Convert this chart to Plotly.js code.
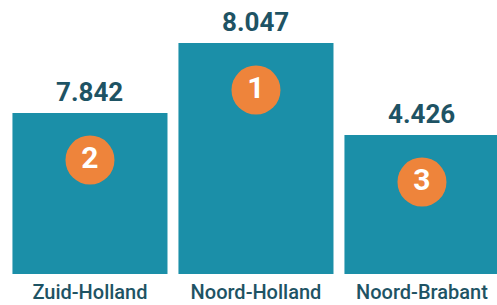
<!DOCTYPE html>
<html>
<head>
<meta charset="utf-8">
<script src="https://cdn.plot.ly/plotly-3.0.1.min.js"></script>
<style>html,body{margin:0;padding:0;background:#fff;}#chart{width:497px;height:305px;}</style>
</head>
<body>
<div id="chart"></div>
<script>
// Data
const provinces = ['Zuid-Holland', 'Noord-Holland', 'Noord-Brabant'];
const values = [7842, 8047, 4426];
const ranks = [2, 1, 3];
// podium block heights (visual units, not proportional to values)
const podiumHeights = [161, 231, 139];

function fmtNL(v) {
  return String(v).replace(/\B(?=(\d{3})+(?!\d))/g, '.');
}

const barColor = '#1b8fa8';
const orange = '#ee843b';
const darkTeal = '#1e5364';

const bars = {
  type: 'bar',
  x: provinces,
  y: podiumHeights,
  marker: { color: barColor },
  hoverinfo: 'skip'
};

const badges = {
  type: 'scatter',
  mode: 'markers+text',
  x: provinces,
  y: podiumHeights.map(h => h - 47),
  text: ranks.map(String),
  textposition: 'middle center',
  textfont: { family: 'Roboto', size: 30, color: '#ffffff', weight: 700 },
  marker: { size: 49, color: orange, line: { width: 0 } },
  hoverinfo: 'skip',
  cliponaxis: false
};

const annotations = provinces.map((p, i) => ({
  x: p,
  y: podiumHeights[i],
  xref: 'x',
  yref: 'y',
  text: fmtNL(values[i]),
  showarrow: false,
  yanchor: 'middle',
  yshift: 21,
  font: { family: 'Roboto', size: 26, color: darkTeal, weight: 700 }
}));

const layout = {
  width: 497,
  height: 305,
  margin: { l: 0, r: 0, t: 0, b: 31, pad: 0 },
  paper_bgcolor: '#ffffff',
  plot_bgcolor: '#ffffff',
  showlegend: false,
  bargap: 0.066,
  xaxis: {
    type: 'category',
    range: [-0.542, 2.452],
    showgrid: false,
    zeroline: false,
    showline: false,
    ticks: '',
    tickfont: { family: 'Roboto', size: 20, color: darkTeal, weight: 500 },
    ticklabelstandoff: 4,
    fixedrange: true
  },
  yaxis: {
    range: [0, 274],
    visible: false,
    fixedrange: true
  },
  annotations: annotations
};

Plotly.newPlot('chart', [bars, badges], layout, { displayModeBar: false, staticPlot: true });
</script>
</body>
</html>
